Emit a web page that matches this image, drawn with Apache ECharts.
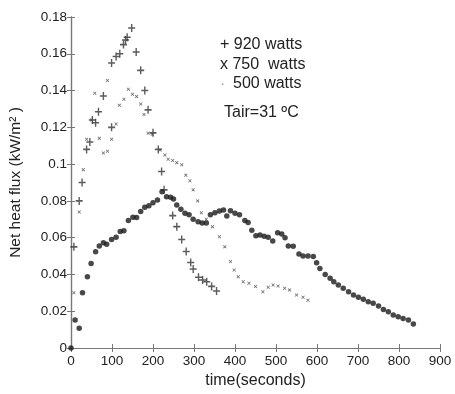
<!DOCTYPE html>
<html>
<head>
<meta charset="utf-8">
<script src="https://cdn.jsdelivr.net/npm/echarts@6/dist/echarts.min.js"></script>
<style>
  html, body { margin: 0; padding: 0; background: #fff; }
  #chart { width: 455px; height: 394px; }
</style>
</head>
<body>
<div id="chart"></div>
<script>
// time (s), net heat flux (kW/m2)
const watts920 = [
  [7, 0.055], [20, 0.080], [27, 0.090], [38, 0.108], [46, 0.112], [52, 0.124],
  [60, 0.1225], [67, 0.1285], [79, 0.137], [99, 0.120], [99, 0.155], [110, 0.1585],
  [119, 0.160], [128, 0.165], [133, 0.1675], [137, 0.169], [148, 0.174], [159, 0.161],
  [170, 0.151], [180, 0.140], [188, 0.1295], [200, 0.117], [213, 0.108], [221, 0.096],
  [227, 0.086], [248, 0.072], [258, 0.066], [270, 0.059], [281, 0.0525], [292, 0.0465],
  [298, 0.043], [311, 0.0385], [321, 0.037], [331, 0.036], [343, 0.0335], [355, 0.031]
];

const watts750 = [
  [7, 0.030], [20, 0.074], [30, 0.097], [38, 0.1135], [50, 0.124], [58, 0.1385],
  [69, 0.114], [79, 0.106], [89, 0.107], [89, 0.1455], [99, 0.1135], [110, 0.1218],
  [118, 0.132], [129, 0.1353], [140, 0.1407], [150, 0.138], [160, 0.1367], [170, 0.1327],
  [178, 0.127], [188, 0.1168], [198, 0.1162], [217, 0.1077], [229, 0.105], [237, 0.1026],
  [248, 0.102], [258, 0.1008], [270, 0.0996], [280, 0.094], [290, 0.091], [298, 0.086],
  [309, 0.080], [318, 0.0736], [330, 0.070], [345, 0.066], [362, 0.0605], [375, 0.055],
  [389, 0.047], [398, 0.0424], [408, 0.0388], [420, 0.036], [434, 0.0352], [450, 0.0334],
  [468, 0.0306], [481, 0.033], [493, 0.0343], [505, 0.0337], [521, 0.0325], [533, 0.0316],
  [550, 0.0288], [566, 0.0276], [578, 0.026]
];

const watts500 = [
  [0, 0], [10, 0.0152], [20, 0.0107], [28, 0.030], [40, 0.0388], [49, 0.046],
  [60, 0.0524], [69, 0.0555], [79, 0.0573], [87, 0.0564], [99, 0.059], [110, 0.0602],
  [120, 0.0633], [129, 0.0638], [140, 0.0693], [151, 0.0711], [160, 0.071], [170, 0.0742],
  [180, 0.0765], [190, 0.0773], [200, 0.079], [211, 0.0805], [222, 0.085], [233, 0.0823],
  [243, 0.082], [250, 0.081], [258, 0.0778], [268, 0.0755], [278, 0.0733], [288, 0.0724],
  [298, 0.070], [310, 0.0686], [320, 0.068], [330, 0.068], [340, 0.0725], [351, 0.0736],
  [362, 0.0745], [372, 0.075], [380, 0.0718], [389, 0.0747], [400, 0.0733], [411, 0.0724],
  [424, 0.0693], [432, 0.0683], [441, 0.064], [451, 0.061], [461, 0.0615], [471, 0.0608],
  [481, 0.0602], [492, 0.0582], [504, 0.0627], [514, 0.062], [522, 0.060], [530, 0.0555],
  [542, 0.0553], [556, 0.0511], [566, 0.050], [578, 0.050], [591, 0.0497], [599, 0.0464],
  [607, 0.0433], [620, 0.040], [632, 0.0379], [641, 0.036], [652, 0.0343], [664, 0.0325],
  [677, 0.0306], [689, 0.0288], [701, 0.0276], [713, 0.0265], [725, 0.0252], [737, 0.0243],
  [750, 0.0228], [762, 0.021], [774, 0.0197], [786, 0.018], [798, 0.017], [810, 0.0161],
  [823, 0.0152], [835, 0.013]
];

const legendLines = ['+ 920 watts', 'x 750  watts', '500 watts', 'Tair=31 ºC'];

const font = '"Liberation Sans", Arial, sans-serif';
const ink = '#222';
const frame = '#777';

const plusPath = 'path://M4,0h2v10h-2zM0,4h10v2h-10z';
const crossPath = 'path://M0,1.5L1.5,0L5,3.5L8.5,0L10,1.5L6.5,5L10,8.5L8.5,10L5,6.5L1.5,10L0,8.5L3.5,5z';

const chart = echarts.init(document.getElementById('chart'));

const option = {
  backgroundColor: '#fff',
  animation: false,
  grid: { left: 70, right: 15, top: 17, bottom: 46 },
  xAxis: [
    {
      type: 'value', min: 0, max: 900, interval: 100,
      name: 'time(seconds)', nameLocation: 'middle', nameGap: 22,
      nameTextStyle: { fontFamily: font, fontSize: 16, color: ink },
      axisLine: { onZero: false, lineStyle: { color: frame, width: 1.2 } },
      axisTick: { inside: true, length: 4, lineStyle: { color: frame } },
      axisLabel: { fontFamily: font, fontSize: 13.5, color: ink, margin: 6 },
      splitLine: { show: false }
    },
    {
      type: 'value', min: 0, max: 900, interval: 100, position: 'top',
      axisLine: { show: true, lineStyle: { color: frame, width: 1 } },
      axisTick: { inside: true, length: 4, lineStyle: { color: frame } },
      axisLabel: { show: false },
      splitLine: { show: false }
    }
  ],
  yAxis: [
    {
      type: 'value', min: 0, max: 0.18, interval: 0.02,
      name: 'Net heat flux (kW/m² )', nameLocation: 'middle', nameGap: 47,
      nameTextStyle: { fontFamily: font, fontSize: 15.5, color: ink },
      axisLine: { show: true, onZero: false, lineStyle: { color: frame, width: 1.4 } },
      axisTick: { inside: true, length: 4, lineStyle: { color: frame } },
      axisLabel: {
        fontFamily: font, fontSize: 13.5, color: ink, margin: 4,
        formatter: v => String(Math.round(v * 100) / 100)
      },
      splitLine: { show: false }
    },
    {
      type: 'value', min: 0, max: 0.18, interval: 0.02, position: 'right',
      axisLine: { show: true, lineStyle: { color: frame, width: 1 } },
      axisTick: { inside: true, length: 4, lineStyle: { color: frame } },
      axisLabel: { show: false },
      splitLine: { show: false }
    }
  ],
  series: [
    {
      name: '920 watts', type: 'scatter', data: watts920,
      symbol: plusPath, symbolSize: [7, 8],
      itemStyle: { color: '#333' }
    },
    {
      name: '750 watts', type: 'scatter', data: watts750,
      symbol: crossPath, symbolSize: 3.5,
      itemStyle: { color: '#444' }
    },
    {
      name: '500 watts', type: 'scatter', data: watts500,
      symbol: 'circle', symbolSize: 5.5,
      itemStyle: { color: '#1a1a1a' }
    }
  ],
  graphic: [
    { type: 'text', left: 220, top: 37, style: { text: legendLines[0], font: '16px ' + font, fill: ink } },
    { type: 'text', left: 220, top: 57, style: { text: legendLines[1], font: '16px ' + font, fill: ink } },
    { type: 'text', left: 221, top: 76, style: { text: '.', font: '12px ' + font, fill: '#888' } },
    { type: 'text', left: 233, top: 76, style: { text: legendLines[2], font: '16px ' + font, fill: ink } },
    { type: 'text', left: 224, top: 105, style: { text: legendLines[3], font: '16px ' + font, fill: ink } }
  ]
};

chart.setOption(option);
</script>
</body>
</html>
